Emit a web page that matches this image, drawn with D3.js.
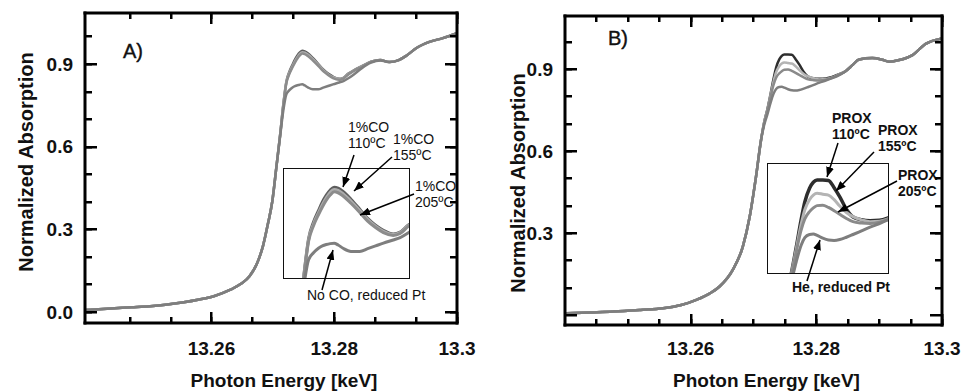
<!DOCTYPE html>
<html>
<head>
<meta charset="utf-8">
<script src="https://cdn.jsdelivr.net/npm/d3@7"></script>
<style>
  body { margin: 0; background: #fff; }
  svg { display: block; }
  text { font-family: "Liberation Sans", Arial, sans-serif; }
</style>
</head>
<body>
<script>
// ---- panel A: CO exposure ----
var energyA = [13.2394, 13.2430, 13.2470, 13.2500, 13.2525, 13.2555, 13.2580, 13.2605, 13.2630, 13.2648,
               13.2662, 13.2674, 13.2684, 13.2692, 13.2699, 13.2706, 13.2712, 13.2717, 13.2722, 13.2727,
               13.2732, 13.2736, 13.2740, 13.2744, 13.2748, 13.2752, 13.2757, 13.2765, 13.2774, 13.2782,
               13.2790, 13.2798, 13.2808, 13.2815, 13.2823, 13.2832, 13.2845, 13.2860, 13.2875, 13.2890,
               13.2905, 13.2918, 13.2934, 13.2955, 13.2977, 13.3000];
var noCOA  = [0.007, 0.012, 0.017, 0.021, 0.026, 0.035, 0.045, 0.058, 0.080, 0.102,
              0.130, 0.175, 0.240, 0.320, 0.400, 0.530, 0.640, 0.730, 0.790, 0.805,
              0.815, 0.820, 0.823, 0.825, 0.826, 0.822, 0.815, 0.808, 0.808, 0.814,
              0.820, 0.826, 0.833, 0.838, 0.848, 0.862, 0.885, 0.905, 0.913, 0.907,
              0.914, 0.931, 0.958, 0.980, 0.994, 1.012];
var co110A = [0.007, 0.012, 0.017, 0.021, 0.026, 0.035, 0.045, 0.058, 0.080, 0.102,
              0.130, 0.175, 0.240, 0.320, 0.400, 0.530, 0.645, 0.752, 0.836, 0.872,
              0.897, 0.916, 0.931, 0.942, 0.948, 0.946, 0.939, 0.922, 0.900, 0.880,
              0.865, 0.854, 0.846, 0.850, 0.865, 0.877, 0.892, 0.908, 0.914, 0.907,
              0.914, 0.931, 0.958, 0.980, 0.994, 1.012];
var co155A = [0.007, 0.012, 0.017, 0.021, 0.026, 0.035, 0.045, 0.058, 0.080, 0.102,
              0.130, 0.175, 0.240, 0.320, 0.400, 0.530, 0.645, 0.750, 0.833, 0.868,
              0.892, 0.910, 0.925, 0.937, 0.943, 0.941, 0.934, 0.918, 0.897, 0.878,
              0.863, 0.852, 0.845, 0.849, 0.864, 0.876, 0.891, 0.908, 0.914, 0.907,
              0.914, 0.931, 0.958, 0.980, 0.994, 1.012];
var co205A = [0.007, 0.012, 0.017, 0.021, 0.026, 0.035, 0.045, 0.058, 0.080, 0.102,
              0.130, 0.175, 0.240, 0.320, 0.400, 0.530, 0.645, 0.748, 0.830, 0.864,
              0.888, 0.905, 0.920, 0.931, 0.938, 0.936, 0.929, 0.913, 0.893, 0.874,
              0.860, 0.849, 0.843, 0.847, 0.862, 0.875, 0.890, 0.908, 0.914, 0.907,
              0.914, 0.931, 0.958, 0.980, 0.994, 1.012];

// ---- panel B: PROX ----
var energyB = [13.2400, 13.2440, 13.2477, 13.2520, 13.2556, 13.2585, 13.2609, 13.2630, 13.2646, 13.2667,
               13.2683, 13.2694, 13.2704, 13.2712, 13.2717, 13.2722, 13.2727, 13.2732, 13.2736, 13.2741,
               13.2745, 13.2749, 13.2755, 13.2761, 13.2767, 13.2773, 13.2780, 13.2787, 13.2796, 13.2805,
               13.2815, 13.2824, 13.2835, 13.2847, 13.2858, 13.2868, 13.2889, 13.2905, 13.2916, 13.2932,
               13.2953, 13.2974, 13.3000];
var heB      = [0.006, 0.009, 0.012, 0.018, 0.024, 0.036, 0.055, 0.078, 0.104, 0.165,
                0.250, 0.360, 0.506, 0.640, 0.695, 0.733, 0.775, 0.810, 0.827, 0.834,
                0.835, 0.832, 0.826, 0.822, 0.821, 0.823, 0.828, 0.834, 0.842, 0.850,
                0.858, 0.866, 0.876, 0.893, 0.915, 0.935, 0.940, 0.934, 0.927, 0.933,
                0.951, 0.992, 1.012];
var prox110B = [0.006, 0.009, 0.012, 0.018, 0.024, 0.036, 0.055, 0.078, 0.104, 0.165,
                0.250, 0.360, 0.506, 0.640, 0.705, 0.752, 0.807, 0.865, 0.905, 0.935,
                0.948, 0.953, 0.953, 0.952, 0.936, 0.916, 0.889, 0.872, 0.866, 0.864,
                0.865, 0.870, 0.880, 0.893, 0.915, 0.935, 0.940, 0.934, 0.927, 0.933,
                0.951, 0.992, 1.012];
var prox155B = [0.006, 0.009, 0.012, 0.018, 0.024, 0.036, 0.055, 0.078, 0.104, 0.165,
                0.250, 0.360, 0.506, 0.640, 0.705, 0.750, 0.803, 0.855, 0.888, 0.910,
                0.920, 0.924, 0.922, 0.920, 0.910, 0.896, 0.882, 0.873, 0.866, 0.862,
                0.863, 0.868, 0.879, 0.893, 0.915, 0.935, 0.940, 0.934, 0.927, 0.933,
                0.951, 0.992, 1.012];
var prox205B = [0.006, 0.009, 0.012, 0.018, 0.024, 0.036, 0.055, 0.078, 0.104, 0.165,
                0.250, 0.360, 0.506, 0.640, 0.703, 0.748, 0.797, 0.843, 0.868, 0.884,
                0.892, 0.897, 0.898, 0.893, 0.886, 0.878, 0.869, 0.862, 0.859, 0.858,
                0.861, 0.867, 0.878, 0.893, 0.915, 0.935, 0.940, 0.934, 0.927, 0.933,
                0.951, 0.992, 1.012];

// ticks
var xTicks = [13.26, 13.28, 13.3];
var xTickLabels = ["13.26", "13.28", "13.3"];
var yTicksA = [0, 0.3, 0.6, 0.9];
var yTickLabelsA = ["0.0", "0.3", "0.6", "0.9"];
var yTicksB = [0.3, 0.6, 0.9];
var yTickLabelsB = ["0.3", "0.6", "0.9"];

// zoomed window shown in the insets
var insetEnergy = [13.2696, 13.2824];
var insetAbs = [0.75, 0.99];

var svg = d3.select("body").append("svg")
    .attr("width", 963)
    .attr("height", 391)
    .style("background-color", "#fff");

var arrowHead = svg.append("defs").append("marker")
    .attr("id", "arrow")
    .attr("viewBox", "0 0 10 8")
    .attr("refX", 10).attr("refY", 4)
    .attr("markerWidth", 10).attr("markerHeight", 8)
    .attr("markerUnits", "userSpaceOnUse")
    .attr("orient", "auto");
arrowHead.append("path").attr("d", "M0,0L10,4L0,8Z").attr("fill", "#000");

var frames = [];

function drawPanel(p) {
    var x = d3.scaleLinear().domain(p.xDomain).range([p.left, p.right]);
    var y = d3.scaleLinear().domain(p.yDomain).range([p.bottom, p.top]);
    var g = svg.append("g");

    var line = d3.line()
        .x(function(d) { return x(d[0]); })
        .y(function(d) { return y(d[1]); })
        .curve(d3.curveMonotoneX);

    // main curves, kept inside the frame
    var curves = g.append("svg")
        .attr("x", p.left).attr("y", p.top)
        .attr("width", p.right - p.left).attr("height", p.bottom - p.top)
        .attr("viewBox", [p.left, p.top, p.right - p.left, p.bottom - p.top].join(" "));
    p.series.forEach(function(s) {
        curves.append("path")
            .datum(d3.zip(p.energy, s.values))
            .attr("d", line)
            .attr("fill", "none")
            .attr("stroke", s.color)
            .attr("stroke-width", 2.5)
            .attr("stroke-linejoin", "round");
    });

    // inset: zoom on the white line
    var ix = d3.scaleLinear().domain(insetEnergy).range([p.inset.left, p.inset.right]);
    var iy = d3.scaleLinear().domain(insetAbs).range([p.inset.bottom, p.inset.top]);
    var iline = d3.line()
        .x(function(d) { return ix(d[0]); })
        .y(function(d) { return iy(d[1]); })
        .curve(d3.curveMonotoneX);
    g.append("rect")
        .attr("x", p.inset.left + 0.5).attr("y", p.inset.top + 0.5)
        .attr("width", p.inset.right - p.inset.left).attr("height", p.inset.bottom - p.inset.top)
        .attr("fill", "#fff").attr("stroke", "#111").attr("stroke-width", 1);
    var icurves = g.append("svg")
        .attr("x", p.inset.left).attr("y", p.inset.top)
        .attr("width", p.inset.right - p.inset.left).attr("height", p.inset.bottom - p.inset.top)
        .attr("viewBox", [p.inset.left, p.inset.top, p.inset.right - p.inset.left, p.inset.bottom - p.inset.top].join(" "));
    p.series.forEach(function(s) {
        icurves.append("path")
            .datum(d3.zip(p.energy, s.values))
            .attr("d", iline)
            .attr("fill", "none")
            .attr("stroke", s.color)
            .attr("stroke-width", s.insetWidth || 3)
            .attr("stroke-linejoin", "round");
    });

    // tick labels
    g.selectAll(null).data(xTicks).enter().append("text")
        .attr("x", function(d) { return x(d); })
        .attr("y", 355)
        .attr("text-anchor", "middle")
        .attr("font-size", 19).attr("font-weight", "bold").attr("fill", "#111")
        .text(function(d, i) { return xTickLabels[i]; });
    g.selectAll(null).data(p.yTicks).enter().append("text")
        .attr("x", p.left - 12)
        .attr("y", function(d) { return y(d); })
        .attr("dy", "0.36em")
        .attr("text-anchor", "end")
        .attr("font-size", 19).attr("font-weight", "bold").attr("fill", "#111")
        .text(function(d, i) { return p.yLabels[i]; });

    // titles
    g.append("text")
        .attr("x", (p.left + p.right) / 2 + 13).attr("y", 387)
        .attr("text-anchor", "middle")
        .attr("font-size", 19).attr("font-weight", "bold").attr("fill", "#111")
        .text("Photon Energy [keV]");
    g.append("text")
        .attr("transform", "translate(" + p.yTitleX + "," + p.yTitleY + ") rotate(-90)")
        .attr("text-anchor", "middle")
        .attr("font-size", 20).attr("font-weight", "bold").attr("fill", "#111")
        .text("Normalized Absorption");
    g.append("text")
        .attr("x", p.tag[0]).attr("y", p.tag[1])
        .attr("font-size", 20).attr("fill", "#111")
        .attr("stroke", "#111").attr("stroke-width", 0.4)
        .text(p.tag[2]);

    // annotations
    p.notes.forEach(function(n) {
        var t = g.append("text")
            .attr("x", n.tx).attr("y", n.ty)
            .attr("font-size", 14)
            .attr("font-weight", p.noteWeight)
            .attr("fill", "#111");
        n.lines.forEach(function(l, i) {
            t.append("tspan").attr("x", n.tx).attr("dy", i === 0 ? 0 : 16).text(l);
        });
        g.append("line")
            .attr("x1", n.from[0]).attr("y1", n.from[1])
            .attr("x2", n.to[0]).attr("y2", n.to[1])
            .attr("stroke", "#000").attr("stroke-width", 1.5)
            .attr("marker-end", "url(#arrow)");
    });

    frames.push({ p: p, x: x, y: y });
}

// frame and inward ticks on all four sides, as filled bars
function drawFrame(f) {
    var p = f.p, x = f.x, y = f.y;
    var fr = svg.append("g").attr("fill", "#000");
    var xMinor = d3.range(p.xMinorStart, 13.3, p.xMinorStep);
    var yMinor = d3.range(p.yMinorStart, 1.05, 0.1);
    var bars = [];  // [x, y, w, h]
    xMinor.forEach(function(d) {
        var cx = Math.round(x(d)) - 1;
        bars.push([cx, p.bottom - 6, 2.5, 6], [cx, p.top, 2.5, 6]);
    });
    xTicks.forEach(function(d) {
        var cx = Math.round(x(d)) - 1;
        bars.push([cx, p.bottom - 11, 2.5, 11], [cx, p.top, 2.5, 11]);
    });
    yMinor.forEach(function(d) {
        var cy = Math.round(y(d)) - 1;
        bars.push([p.left, cy, 7, 2.5], [p.right - 7, cy, 7, 2.5]);
    });
    p.yMajorTicks.forEach(function(d) {
        var cy = Math.round(y(d)) - 1;
        bars.push([p.left, cy, 12, 2.5], [p.right - 12, cy, 12, 2.5]);
    });
    // frame sides
    bars.push([p.left - 1.5, p.top - 1.5, p.right - p.left + 3, 3]);
    bars.push([p.left - 1.5, p.bottom - 1.5, p.right - p.left + 3, 3]);
    bars.push([p.left - 1.5, p.top - 1.5, 3, p.bottom - p.top + 3]);
    bars.push([p.right - 1.5, p.top - 1.5, 3, p.bottom - p.top + 3]);
    fr.selectAll("rect").data(bars).enter().append("rect")
        .attr("x", function(b) { return b[0]; })
        .attr("y", function(b) { return b[1]; })
        .attr("width", function(b) { return b[2]; })
        .attr("height", function(b) { return b[3]; })
        .attr("fill", "#000");
}

drawPanel({
    id: "a", left: 85, right: 457, top: 13, bottom: 323,
    xDomain: [13.2394, 13.3], yDomain: [-0.04, 1.085],
    xMinorStart: 13.24 + 0.02 / 3, xMinorStep: 0.02 / 3, yMinorStart: 0,
    yTicks: yTicksA, yLabels: yTickLabelsA, yMajorTicks: yTicksA,
    energy: energyA,
    series: [
        { values: co110A, color: "#5e5e5e" },
        { values: co155A, color: "#adadad" },
        { values: co205A, color: "#8c8c8c" },
        { values: noCOA, color: "#7e7e7e" }
    ],
    inset: { left: 283, right: 409, top: 168, bottom: 278 },
    yTitleX: 33, yTitleY: 162,
    tag: [123, 58, "A)"],
    noteWeight: "normal",
    notes: [
        { lines: ["1%CO", "110ºC"], tx: 348, ty: 132, from: [354, 155], to: [343, 187] },
        { lines: ["1%CO", "155ºC"], tx: 393, ty: 144, from: [392, 157], to: [354, 191] },
        { lines: ["1%CO", "205ºC"], tx: 415, ty: 191, from: [414, 194], to: [360, 215] },
        { lines: ["No CO, reduced Pt"], tx: 307, ty: 300, from: [322, 290], to: [333, 250] }
    ]
});

drawPanel({
    id: "b", left: 565, right: 942, top: 16, bottom: 325,
    xDomain: [13.24, 13.3], yDomain: [-0.037, 1.094],
    xMinorStart: 13.245, xMinorStep: 0.005, yMinorStart: 0.1,
    yTicks: yTicksB, yLabels: yTickLabelsB, yMajorTicks: [0, 0.3, 0.6, 0.9],
    energy: energyB,
    series: [
        { values: prox110B, color: "#2e2e2e", insetWidth: 3.5 },
        { values: prox155B, color: "#b4b4b4" },
        { values: prox205B, color: "#8a8a8a" },
        { values: heB, color: "#7e7e7e" }
    ],
    inset: { left: 767, right: 888, top: 163, bottom: 273 },
    yTitleX: 525, yTitleY: 183,
    tag: [608, 45, "B)"],
    noteWeight: "bold",
    notes: [
        { lines: ["PROX", "110ºC"], tx: 832, ty: 123, from: [838, 143], to: [827, 177] },
        { lines: ["PROX", "155ºC"], tx: 878, ty: 135, from: [874, 152], to: [836, 191] },
        { lines: ["PROX", "205ºC"], tx: 898, ty: 180, from: [897, 181], to: [838, 212] },
        { lines: ["He, reduced Pt"], tx: 792, ty: 292, from: [807, 281], to: [820, 240] }
    ]
});

frames.forEach(drawFrame);
</script>
</body>
</html>
